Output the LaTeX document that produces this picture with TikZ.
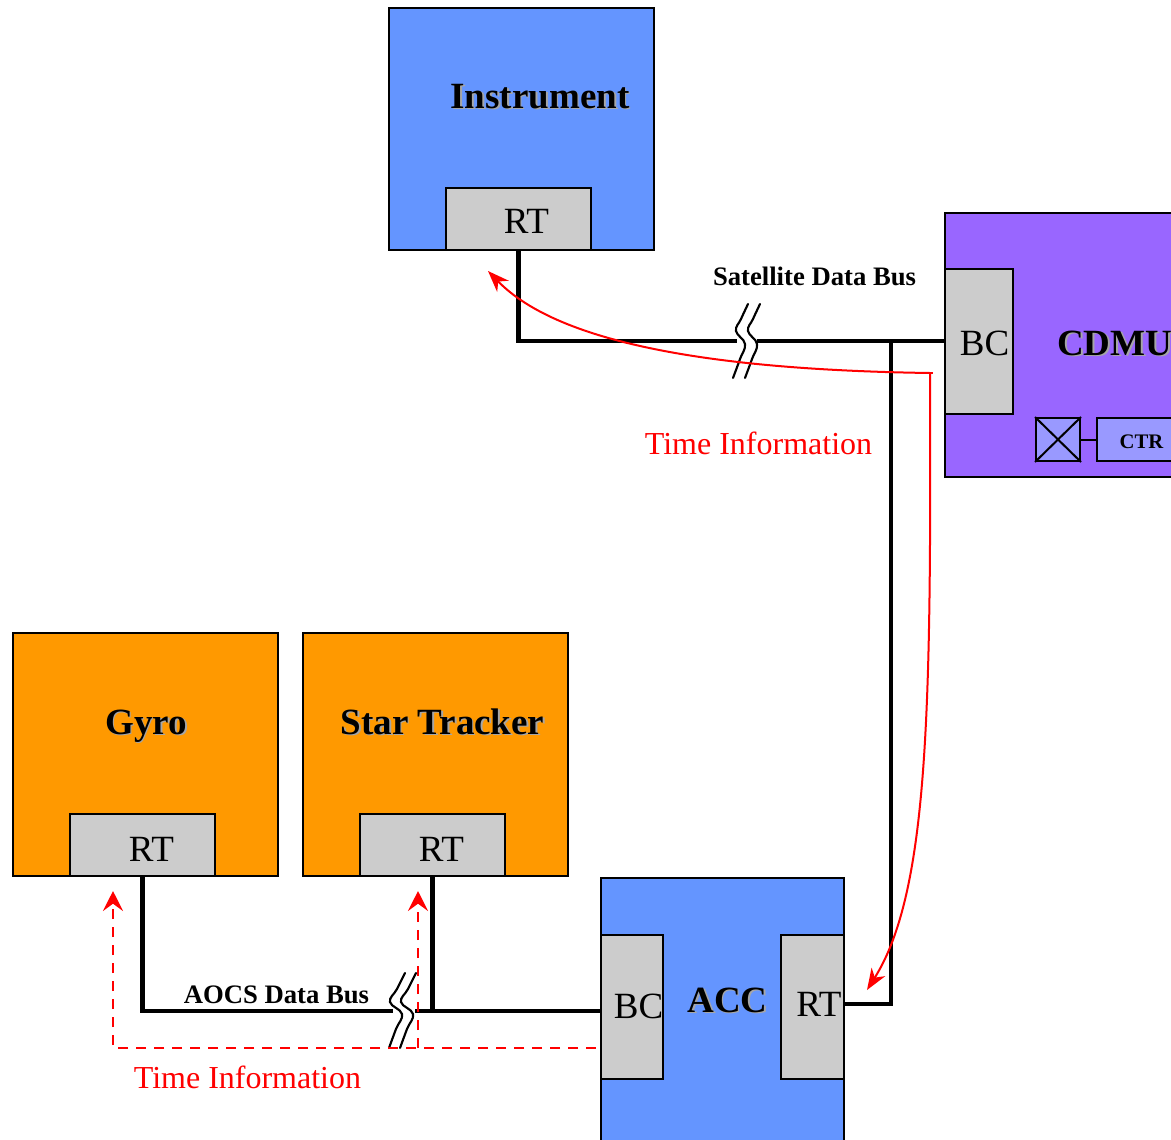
\documentclass[tikz,border=0pt]{standalone}
\usepackage{fontspec}
\setmainfont{Liberation Serif}
\usetikzlibrary{arrows.meta}
\definecolor{instblue}{RGB}{100,149,255}
\definecolor{cdmupurple}{RGB}{153,102,255}
\definecolor{ctrpurple}{RGB}{153,153,255}
\definecolor{aocsorange}{RGB}{255,153,0}
\definecolor{rtgrey}{RGB}{204,204,204}
\definecolor{timered}{RGB}{255,0,0}
\newcommand\shadowtxt[1]{\makebox[0pt][l]{\kern1.3pt\raisebox{-1.3pt}{\textcolor{black!35}{#1}}}#1}
\begin{document}
\begin{tikzpicture}[x=0.75pt,y=-0.75pt,
  unit/.style={draw=black, line width=1.5pt, inner sep=0pt, rectangle},
  sz/.style 2 args={minimum width=#1*0.75pt, minimum height=#2*0.75pt},
  titlelab/.style={inner sep=0pt, anchor=base, font=\fontsize{27.75}{30}\selectfont\bfseries},
  portlab/.style={inner sep=0pt, anchor=base, font=\fontsize{27.75}{30}\selectfont},
  buslab/.style={inner sep=0pt, anchor=base, font=\fontsize{20}{22}\selectfont\bfseries},
  ctrlab/.style={inner sep=0pt, anchor=base, font=\fontsize{15.5}{17}\selectfont\bfseries},
  timelab/.style={inner sep=0pt, anchor=base, text=timered, font=\fontsize{24}{26}\selectfont},
  bus/.style={line width=3.2pt, line cap=butt, line join=miter},
  breakline/.style={line width=1.6pt, line cap=round},
  timearrow/.style={draw=timered, line width=1.5pt, -{Stealth[length=16pt,width=12pt,inset=5pt]}},
  timedash/.style={draw=timered, line width=1.5pt, dash pattern=on 7.5pt off 6pt,
     -{Stealth[length=15pt,width=15pt,inset=5.5pt]}}
]
\useasboundingbox (0,0) rectangle (1171,1139);
\clip (0,0) rectangle (1171,1139);

% ---------- Instrument ----------
\node[unit, fill=instblue, sz={265}{242}] (instr) at (521.5,129) {};
\node[unit, fill=rtgrey, sz={145}{62}] (instrRT) at (518.5,219) {};
\node[titlelab] (instrL) at (540,108) {\shadowtxt{Instrument}};
\node[portlab] (instrRTL) at (526.5,233) {RT};

% ---------- CDMU ----------
\node[unit, fill=cdmupurple, sz={270}{264}] (cdmu) at (1080,345) {};
\node[unit, fill=rtgrey, sz={68}{145}] (cdmuBC) at (979,341.5) {};
\node[portlab] (cdmuBCL) at (984.5,355) {BC};
\node[titlelab, anchor=base west] (cdmuL) at (1057,355) {\shadowtxt{CDMU}};
\node[unit, fill=ctrpurple, sz={44}{43}] (xbox) at (1058,439.5) {};
\draw[line width=1.5pt] (xbox.north west) -- (xbox.south east)
                        (xbox.north east) -- (xbox.south west);
\node[unit, fill=ctrpurple, sz={90}{43}] (ctr) at (1142,439.5) {};
\node[ctrlab] (ctrL) at (1141.5,448) {CTR};
\draw[line width=1.5pt] (xbox.east) -- (ctr.west);

% ---------- Gyro / Star Tracker ----------
\node[unit, fill=aocsorange, sz={265}{243}] (gyro) at (145.5,754.5) {};
\node[unit, fill=rtgrey, sz={145}{62}] (gyroRT) at (142.5,845) {};
\node[titlelab] (gyroL) at (146,734) {\shadowtxt{Gyro}};
\node[portlab] (gyroRTL) at (151.5,861) {RT};

\node[unit, fill=aocsorange, sz={265}{243}] (star) at (435.5,754.5) {};
\node[unit, fill=rtgrey, sz={145}{62}] (starRT) at (432.5,845) {};
\node[titlelab] (starL) at (442.5,734) {\shadowtxt{Star Tracker}};
\node[portlab] (starRTL) at (441.5,861) {RT};

% ---------- ACC ----------
\node[unit, fill=instblue, sz={243}{272}] (acc) at (722.5,1014) {};
\node[unit, fill=rtgrey, sz={62}{144}] (accBC) at (632,1007) {};
\node[unit, fill=rtgrey, sz={63}{144}] (accRT) at (812.5,1007) {};
\node[titlelab] (accL) at (727.5,1012) {\shadowtxt{ACC}};
\node[portlab] (accBCL) at (638.5,1018) {BC};
\node[portlab] (accRTL) at (819,1016) {RT};

% ---------- Satellite data bus ----------
\coordinate (satBrkL) at (737,341);
\coordinate (satBrkR) at (757,341);
\coordinate (satJ) at (891,341);
\coordinate (accRTport) at (844,1004);
\draw[bus] (instrRT.south) |- (satBrkL);
\draw[bus] (satBrkR) -- (cdmuBC.west |- satBrkR);
\draw[bus] (satJ) |- (accRTport);
\begin{scope}[shift={(741,341)}]
  \draw[breakline] plot[smooth, tension=0.7] coordinates {(7,-37) (0,-22) (-5,-10) (4,3) (-1,18) (-8,37)};
  \draw[breakline] plot[smooth, tension=0.7] coordinates {(19,-37) (12,-22) (7,-10) (16,3) (11,18) (4,37)};
\end{scope}
\node[buslab] (satL) at (814.5,285) {Satellite Data Bus};

% ---------- AOCS data bus ----------
\coordinate (aocsBrkL) at (393,1011);
\coordinate (aocsBrkR) at (415,1011);
\coordinate (accBCport) at (601,1011);
\draw[bus] (gyroRT.south) |- (aocsBrkL);
\draw[bus] (aocsBrkR) -- (accBCport);
\draw[bus] (starRT.south) -- (starRT.south |- accBCport);
\begin{scope}[shift={(397,1011)}]
  \draw[breakline] plot[smooth, tension=0.7] coordinates {(8,-38) (0,-22) (-7,-9) (5,3) (-1,18) (-8,37)};
  \draw[breakline] plot[smooth, tension=0.7] coordinates {(19,-38) (11,-22) (4,-9) (16,3) (10,18) (3,37)};
\end{scope}
\node[buslab] (aocsL) at (276.5,1003) {AOCS Data Bus};

% ---------- Time information (CDMU) ----------
\coordinate (tJ) at (930,373);
\coordinate (tInstr) at (488,271);
\coordinate (tAcc) at (867,990);
\draw[timearrow] (tJ) .. controls (720,370) and (560,345) .. (tInstr);
\draw[timearrow] (tJ) .. controls (931,700) and (930,890) .. (tAcc);
\draw[draw=timered, line width=1.5pt] (925,373) -- (933,373);
\node[timelab] (timeTop) at (758.5,454) {Time Information};

% ---------- Time information (ACC) ----------
\coordinate (dStart) at (596,1048);
\coordinate (dCorner) at (113,1048);
\coordinate (dGyro) at (113,891);
\coordinate (dStarBase) at (418,1048);
\coordinate (dStar) at (418,891);
\draw[timedash] (dStart) -- (dCorner) -- (dGyro);
\draw[timedash] (dStarBase) -- (dStar);
\node[timelab] (timeBot) at (247.5,1088) {Time Information};
\end{tikzpicture}
\end{document}
